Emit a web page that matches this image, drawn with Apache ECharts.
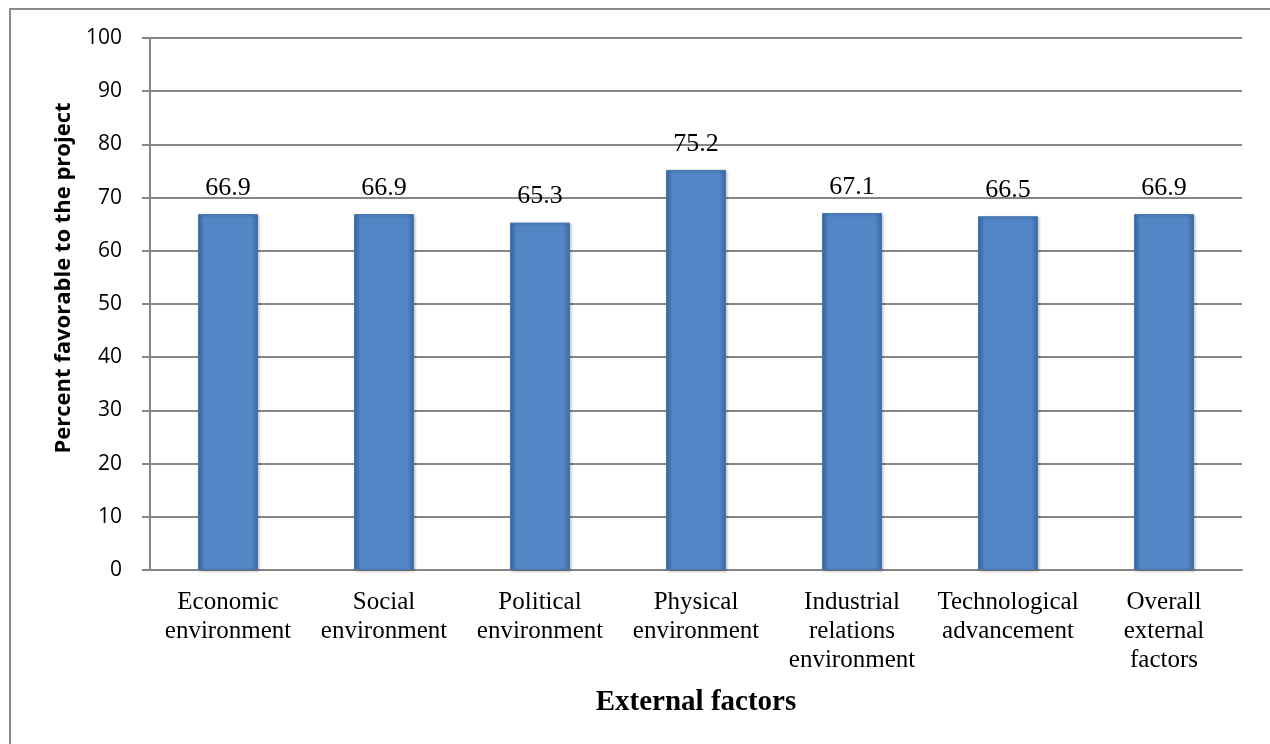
<!DOCTYPE html>
<html>
<head>
<meta charset="utf-8">
<script src="https://cdn.jsdelivr.net/npm/echarts@6/dist/echarts.min.js"></script>
<style>
html,body{margin:0;padding:0;background:#fff;}
#myChart{width:1270px;height:744px;}
</style>
</head>
<body>
<div id="myChart"></div>
<script>
// 数据
var categories = ['Economic\nenvironment', 'Social\nenvironment', 'Political\nenvironment',
	'Physical\nenvironment', 'Industrial\nrelations\nenvironment', 'Technological\nadvancement',
	'Overall\nexternal\nfactors'];
var values = [66.9, 66.9, 65.3, 75.2, 67.1, 66.5, 66.9];
var yTicks = [0, 10, 20, 30, 40, 50, 60, 70, 80, 90, 100];

var barColor = {
	type: 'linear', x: 0, y: 0, x2: 1, y2: 0,
	colorStops: [
		{offset: 0, color: '#3d6aa3'},
		{offset: 0.12, color: '#5286c6'},
		{offset: 0.88, color: '#5286c6'},
		{offset: 1, color: '#3d6aa3'}
	]
};

var option = {
	animation: false,
	backgroundColor: '#fff',
	graphic: [{
		type: 'rect',
		shape: {x: 10, y: 9, width: 1280, height: 760},
		style: {fill: 'none', stroke: '#8c8c8c', lineWidth: 2},
		silent: true
	}],
	grid: {left: 150, top: 38, right: 28, bottom: 174},
	xAxis: {
		type: 'category',
		data: categories,
		name: 'External factors',
		nameLocation: 'middle',
		nameGap: 118,
		nameTextStyle: {fontFamily: 'Liberation Serif', fontWeight: 'bold', fontSize: 29, color: '#000'},
		axisLine: {lineStyle: {color: '#868686', width: 2}},
		axisTick: {show: false},
		axisLabel: {
			fontFamily: 'Liberation Serif', fontSize: 25, color: '#000',
			lineHeight: 29, margin: 18, interval: 0
		}
	},
	yAxis: {
		type: 'value',
		min: 0, max: 100, interval: 10,
		name: 'Percent favorable to the project',
		nameLocation: 'middle',
		nameGap: 72,
		nameTextStyle: {
			fontFamily: 'Open Sans', fontWeight: 'bold', fontSize: 22, color: '#000',
			padding: [0, 0, 0, 52]
		},
		axisLine: {show: true, lineStyle: {color: '#868686', width: 2}},
		axisTick: {show: true, length: 8, lineStyle: {color: '#868686', width: 2}},
		axisLabel: {
			fontFamily: 'Open Sans', fontSize: 21, color: '#000', margin: 28,
			formatter: function (v) { return yTicks.indexOf(v) >= 0 ? String(v) : ''; }
		},
		splitLine: {lineStyle: {color: '#868686', width: 2}}
	},
	series: [{
		type: 'bar',
		data: values,
		barWidth: 60,
		itemStyle: {
			color: barColor,
			borderColor: '#4677b4',
			borderWidth: 1,
			shadowColor: 'rgba(0,0,0,0.25)',
			shadowBlur: 3,
			shadowOffsetX: 1,
			shadowOffsetY: 1
		},
		label: {
			show: true,
			position: 'top',
			distance: 13,
			fontFamily: 'Liberation Serif',
			fontSize: 26,
			color: '#000',
			formatter: function (p) { return p.value.toFixed(1); }
		}
	}]
};
echarts.init(document.getElementById('myChart')).setOption(option);
</script>
</body>
</html>
